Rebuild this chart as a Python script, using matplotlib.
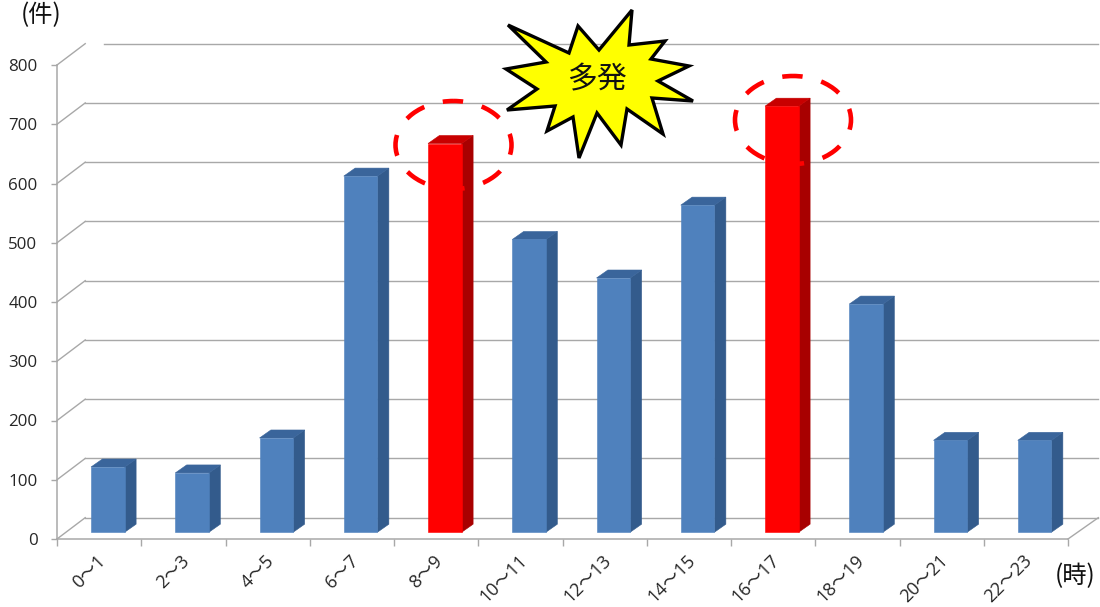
import matplotlib
matplotlib.use('Agg')
import matplotlib.pyplot as plt
from matplotlib.patches import Ellipse, Polygon

plt.rcParams['font.family'] = ['Open Sans', 'Noto Sans CJK JP', 'DejaVu Sans']

# Accidents per two-hour slot
hours = ['0～1', '2～3', '4～5', '6～7', '8～9', '10～11', '12～13',
         '14～15', '16～17', '18～19', '20～21', '22～23']
counts = [110, 100, 159, 601, 656, 494, 429, 552, 719, 385, 155, 155]
peak_slots = [4, 8]
y_ticks = [0, 100, 200, 300, 400, 500, 600, 700, 800]

# Burst shape behind the label, in figure pixels
star_x = [508, 569, 578, 599, 632, 629, 665, 651, 689, 658, 693, 652,
          663, 627, 621, 597, 579, 573, 547, 555, 507, 537, 506, 546]
star_y = [25, 53, 26, 50, 10, 45, 41, 59, 66, 81, 101, 98,
          134, 109, 145, 113, 158, 117, 131, 106, 110, 89, 69, 62]

W, H = 1100, 607
GRID = '#a8a8a8'
TEXT = '#262626'

# fake 3D depth of the chart box and of the bars (x in slots, y in counts)
wall_dx, wall_dy = 0.335, 36
bar_shift_x, bar_shift_y = 0.104, 11.5
bar_dx, bar_dy = 0.135, 13.5
bar_width = 0.40
top_grid_start = 0.558
wall_right = 12.36
label_nudge = 0.03

fig = plt.figure(figsize=(W / 100, H / 100), dpi=100)
ax = fig.add_axes([57 / W, (H - 539) / H, 1011 / W, 474 / H])
ax.set_xlim(0, 12)
ax.set_ylim(0, 800)
ax.patch.set_alpha(0)

for s in ['top', 'right']:
    ax.spines[s].set_visible(False)
for s in ['left', 'bottom']:
    ax.spines[s].set_color(GRID)
    ax.spines[s].set_linewidth(1.1)

# back wall gridlines with the slanted part on the left
for v in y_ticks:
    ax.plot([0, wall_dx], [v, v + wall_dy], color=GRID, lw=1.0, clip_on=False, zorder=1)
    x0 = top_grid_start if v == 800 else wall_dx
    ax.plot([x0, wall_right], [v + wall_dy, v + wall_dy], color=GRID, lw=1.0, clip_on=False, zorder=1)
ax.plot([12, wall_right], [0, wall_dy], color=GRID, lw=1.0, clip_on=False, zorder=1)

# bars: side and top faces first, front face over them
for i, v in enumerate(counts):
    if i in peak_slots:
        front, side, top = '#ff0000', '#a80000', '#c80000'
    else:
        front, side, top = '#4f81bd', '#335b8c', '#3a659b'
    left = i + 0.5 + bar_shift_x - bar_width / 2
    right = left + bar_width
    base = bar_shift_y
    ax.fill([right, right + bar_dx, right + bar_dx, right],
            [base, base + bar_dy, base + v + bar_dy, base + v],
            facecolor=side, edgecolor=side, lw=0.4, zorder=3, clip_on=False)
    ax.fill([left, left + bar_dx, right + bar_dx, right],
            [base + v, base + v + bar_dy, base + v + bar_dy, base + v],
            facecolor=top, edgecolor=top, lw=0.4, zorder=3, clip_on=False)
    ax.bar(left, v, width=bar_width, bottom=base, align='edge', color=front,
           edgecolor=front, lw=0.4, zorder=4, clip_on=False)

ax.set_yticks(y_ticks)
ax.tick_params(axis='y', length=4, width=1.0, color=GRID, pad=10, labelsize=12.2, labelcolor=TEXT)

# ticks between slots, labels under each slot
ax.set_xticks(range(13))
ax.set_xticklabels([])
ax.tick_params(axis='x', which='major', length=5, width=1.0, color=GRID)
ax.set_xticks([i + 0.5 - label_nudge for i in range(12)], minor=True)
ax.set_xticklabels(hours, minor=True, rotation=45, ha='right', va='top',
                   rotation_mode='anchor', fontsize=13, color=TEXT)
ax.tick_params(axis='x', which='minor', length=0, pad=9)

# overlay in figure pixels for the callouts and unit labels
over = fig.add_axes([0, 0, 1, 1])
over.set_xlim(0, W)
over.set_ylim(H, 0)
over.axis('off')
over.patch.set_alpha(0)

over.add_patch(Polygon(list(zip(star_x, star_y)), closed=True, facecolor='#ffff00',
                       edgecolor='#000000', lw=2.4, joinstyle='miter', zorder=5))
over.text(597, 80, '多発', fontsize=21.5, ha='center', va='center', color='#111111', zorder=6,
          family=['Noto Sans CJK JP'])

for cx, cy in [(453.5, 145), (793, 120)]:
    over.add_patch(Ellipse((cx, cy), 116, 88, fill=False, edgecolor='#ff0000', lw=3.3,
                           linestyle=(2.5, (4.6, 4.2)), zorder=6))

over.text(41, 15, '(件)', fontsize=17.5, ha='center', va='center', color='#111111',
          family=['Noto Sans CJK JP'])
over.text(1075, 576, '(時)', fontsize=17.5, ha='center', va='center', color='#111111',
          family=['Noto Sans CJK JP'])

fig.savefig('out.png', dpi=100)
